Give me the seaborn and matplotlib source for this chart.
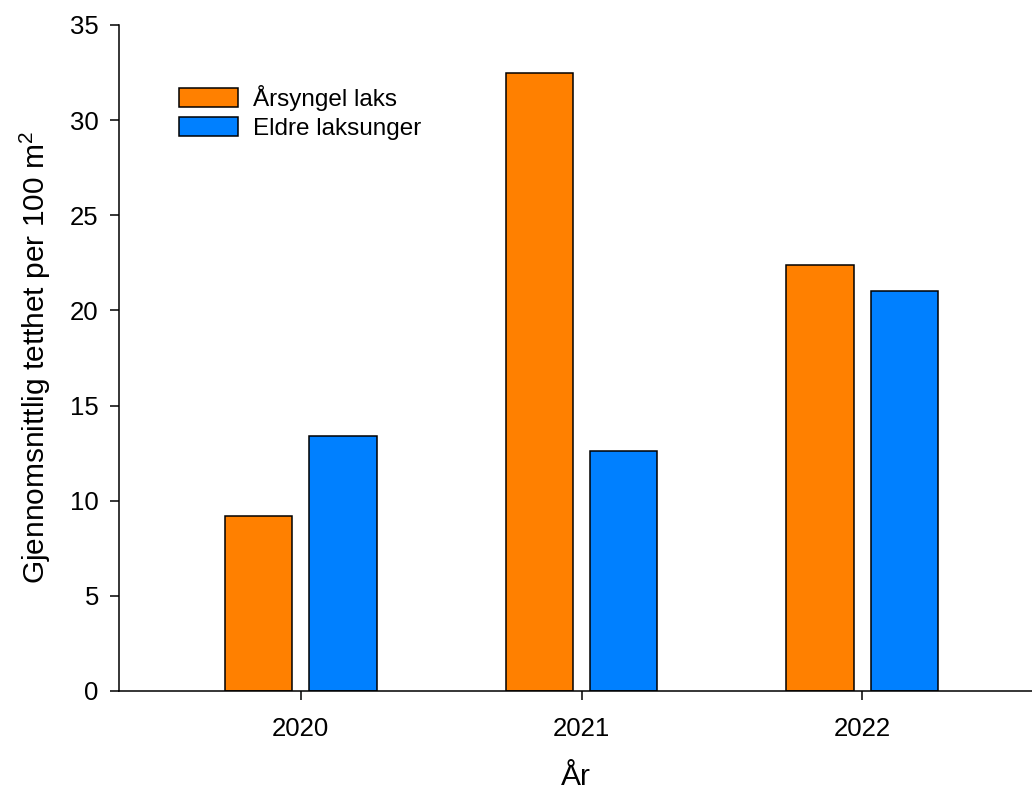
import matplotlib
matplotlib.use("Agg")
import matplotlib.pyplot as plt
import seaborn as sns
import pandas as pd

years = ["2020", "2021", "2022"]
series_names = ["Årsyngel laks", "Eldre laksunger"]
arsyngel = [9.2, 32.5, 22.4]
eldre = [13.4, 12.6, 21.0]
colors = ["#FF8000", "#0080FF"]
y_ticks = [0, 5, 10, 15, 20, 25, 30, 35]

df = pd.DataFrame({
    "year": years * 2,
    "series": [series_names[0]] * 3 + [series_names[1]] * 3,
    "value": arsyngel + eldre,
})

sns.set_theme(style="ticks", rc={"text.color": "black", "axes.labelcolor": "black",
                                 "xtick.color": "black", "ytick.color": "black",
                                 "axes.edgecolor": "black"})
plt.rcParams["font.family"] = ["Liberation Sans", "DejaVu Sans"]
plt.rcParams["mathtext.fontset"] = "custom"
plt.rcParams["mathtext.rm"] = "Liberation Sans"

fig = plt.figure(figsize=(10.32, 7.92), dpi=100)
ax = fig.add_axes([119 / 1032, 1 - 691 / 792, 1 - 119 / 1032, (691 - 25) / 792])

sns.barplot(data=df, x="year", y="value", hue="series", palette=colors,
            width=0.6, gap=0.2, edgecolor="black", linewidth=1.1,
            saturation=1, ax=ax, legend=True)

ax.set_ylim(0, 35)
ax.set_xlim(-0.648, 2.605)
ax.set_yticks(y_ticks)
ax.set_yticklabels([str(t) for t in y_ticks])

for s in ["top", "right"]:
    ax.spines[s].set_visible(False)
for s in ["left", "bottom"]:
    ax.spines[s].set_linewidth(1.1)
    ax.spines[s].set_color("black")

ax.tick_params(axis="y", direction="out", length=6.5, width=1.1, pad=8,
               labelsize=18.5, colors="black")
ax.tick_params(axis="x", direction="out", length=6.5, width=1.1, pad=12,
               labelsize=18.5, colors="black")

ax.set_xlabel("År", fontsize=21.5, labelpad=16, color="black")
ax.set_ylabel("Gjennomsnittlig tetthet per 100 m$\\mathregular{^2}$", fontsize=21.5,
              labelpad=12, color="black")

handles, labels = ax.get_legend_handles_labels()
for h in handles:
    try:
        h.set_edgecolor("black")
        h.set_linewidth(1.1)
    except Exception:
        pass
leg = ax.legend(handles, labels, loc="upper left",
                bbox_to_anchor=(179 / 1032, 1 - 85 / 792), bbox_transform=fig.transFigure,
                frameon=False, fontsize=17.5, handlelength=2.43, handleheight=0.85,
                handletextpad=0.6, labelspacing=0.25, borderpad=0, borderaxespad=0)
for t in leg.get_texts():
    t.set_color("black")

fig.savefig("out.png", dpi=100)
